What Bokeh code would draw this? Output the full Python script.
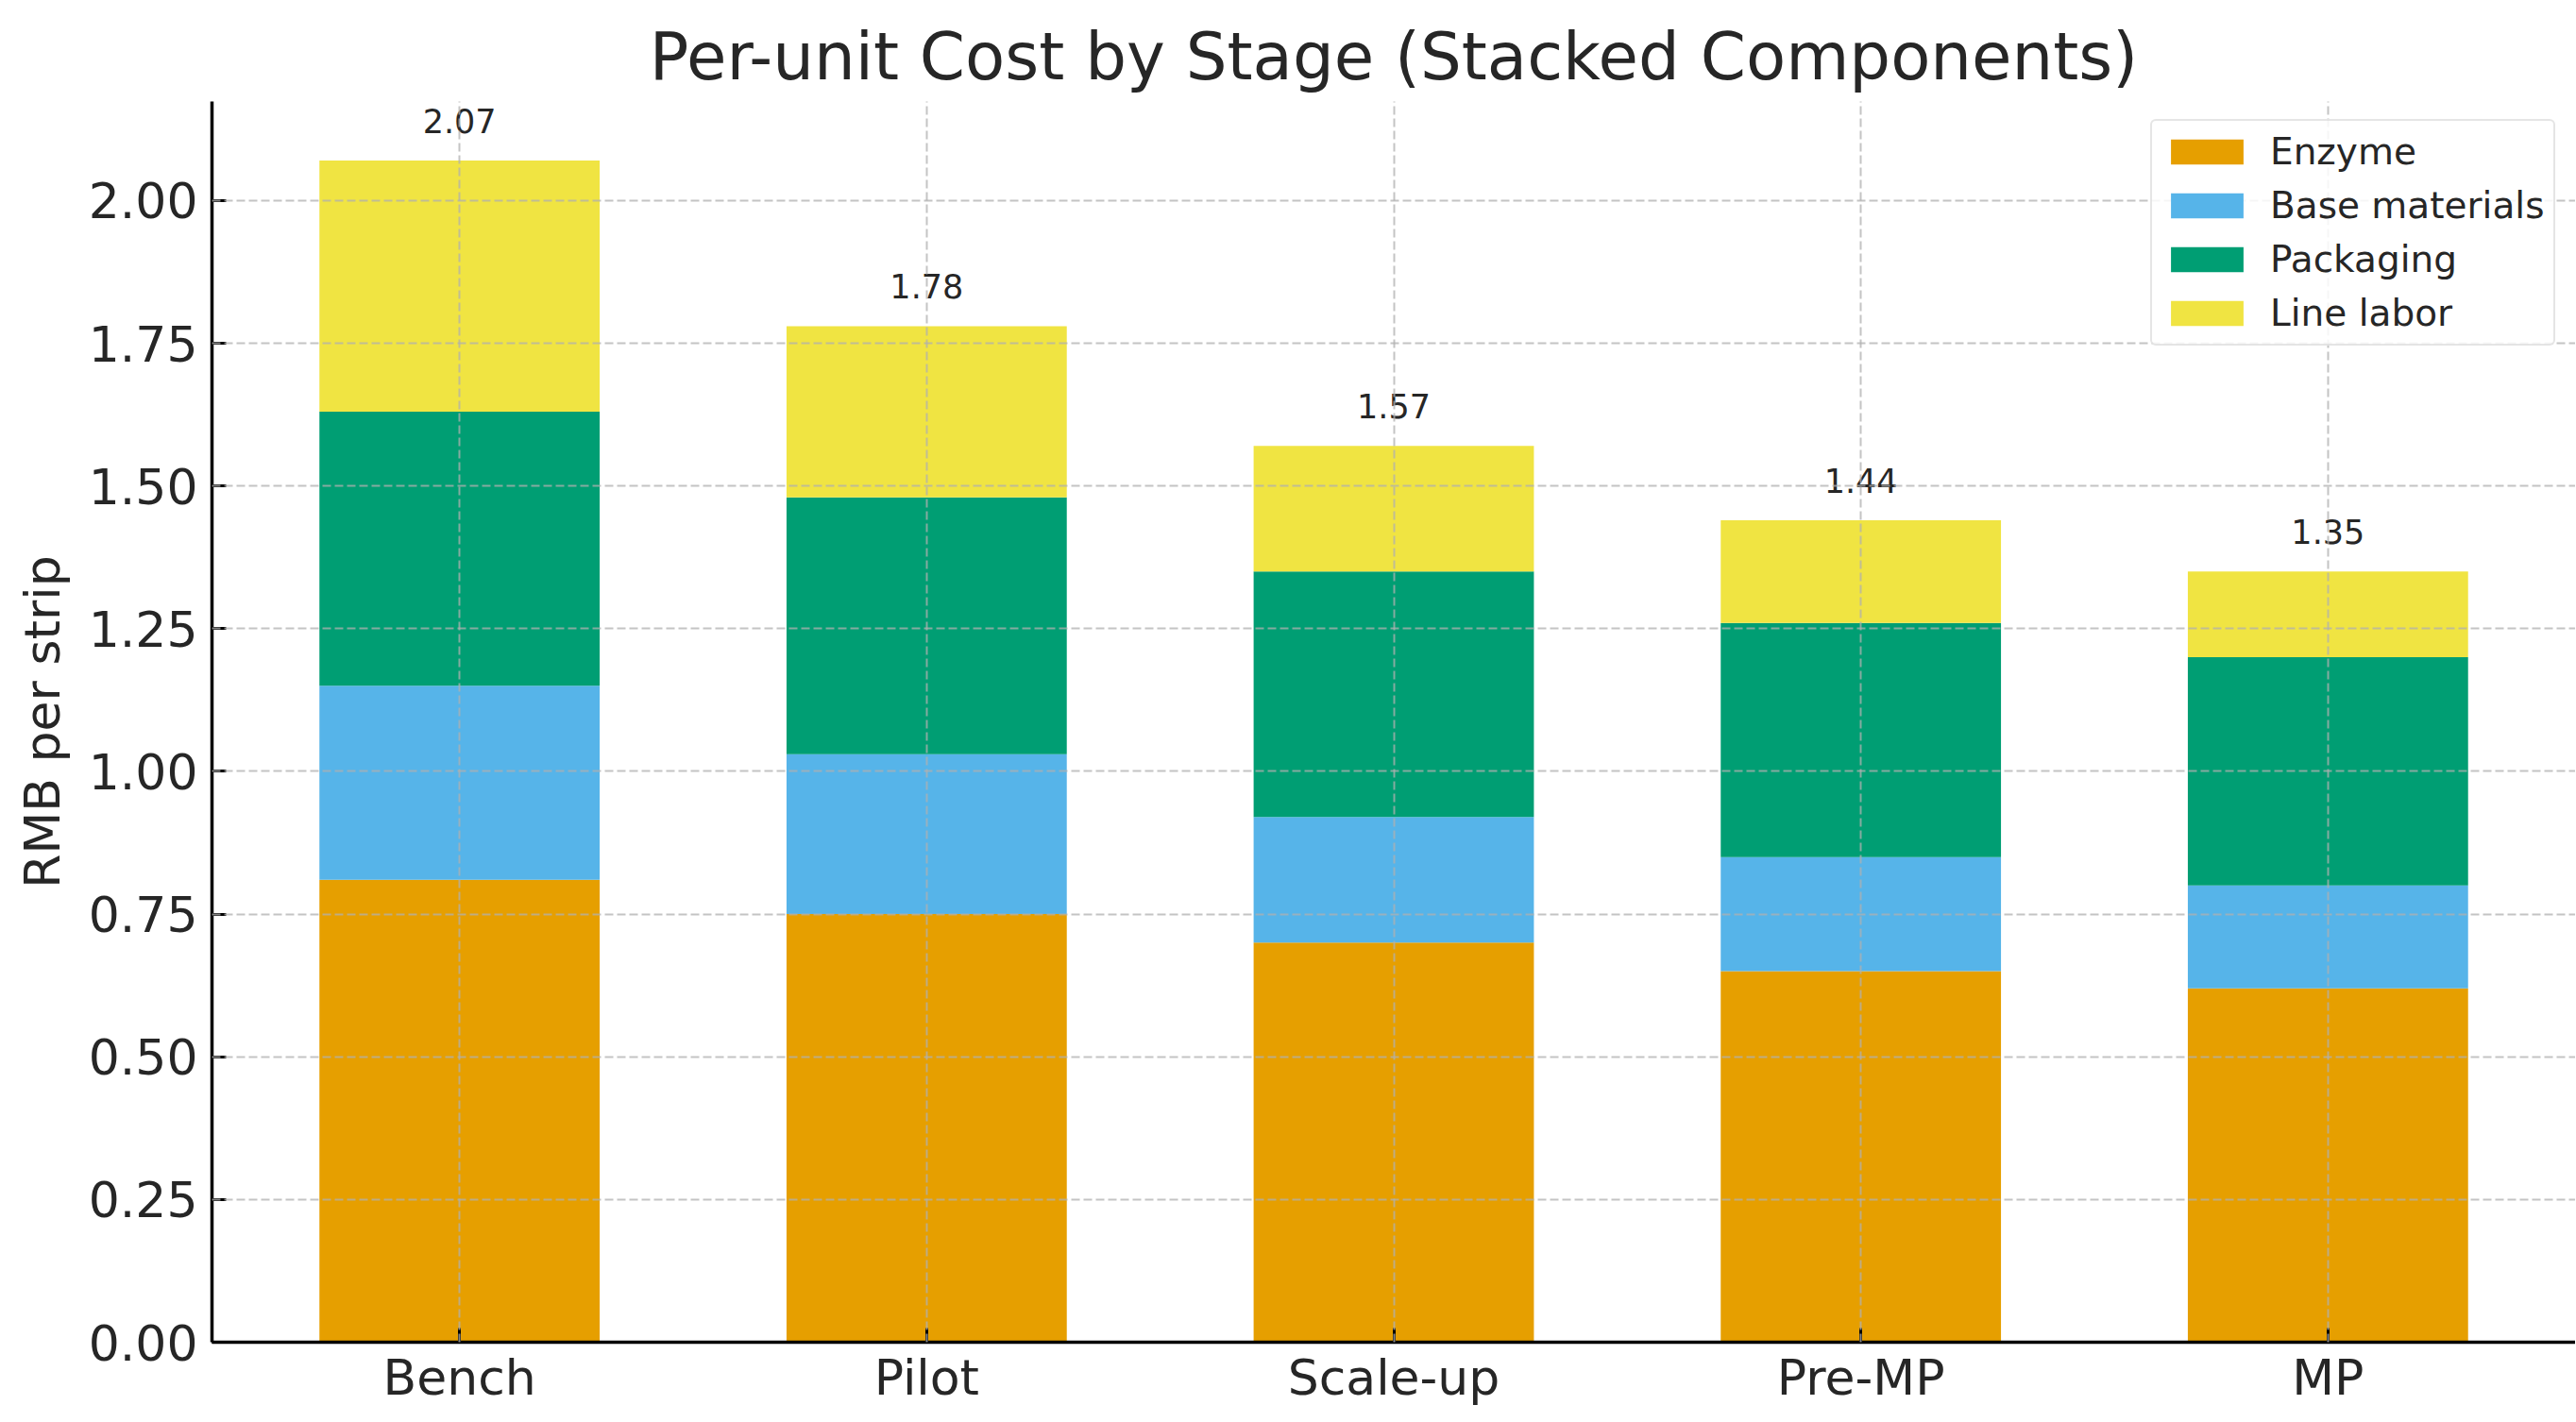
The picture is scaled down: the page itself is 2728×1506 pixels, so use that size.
from bokeh.plotting import figure
from bokeh.models import ColumnDataSource, Range1d, FixedTicker, NumeralTickFormatter, LabelSet, Legend
from bokeh.core.properties import value
from bokeh.embed import file_html
from bokeh.resources import INLINE

# ---- data ----
stages = ["Bench", "Pilot", "Scale-up", "Pre-MP", "MP"]
enzyme = [0.81, 0.75, 0.70, 0.65, 0.62]
base_materials = [0.34, 0.28, 0.22, 0.20, 0.18]
packaging = [0.48, 0.45, 0.43, 0.41, 0.40]
line_labor = [0.44, 0.30, 0.22, 0.18, 0.15]
components = ["Enzyme", "Base materials", "Packaging", "Line labor"]
colors = ["#E69F00", "#56B4E9", "#009E73", "#F0E442"]
y_ticks = [0.0, 0.25, 0.5, 0.75, 1.0, 1.25, 1.5, 1.75, 2.0]

FONT = "DejaVu Sans"
TXT = "#262626"

xs = list(range(len(stages)))
totals = [round(a + b + c + d, 2) for a, b, c, d in zip(enzyme, base_materials, packaging, line_labor)]
src = ColumnDataSource(dict(
    x=xs, stage=stages,
    Enzyme=enzyme, **{"Base materials": base_materials}, Packaging=packaging, **{"Line labor": line_labor},
    total=totals, label=["%.2f" % t for t in totals],
))

p = figure(width=2727, height=1498, output_backend="svg", toolbar_location=None,
           x_range=Range1d(-0.53, len(stages) - 1 + 0.53),
           y_range=Range1d(0, max(totals) * 1.05),
           min_border_left=224, min_border_right=0, min_border_top=107, min_border_bottom=77,
           title="Per-unit Cost by Stage (Stacked Components)")
p.outline_line_color = None
p.background_fill_color = "white"
p.border_fill_color = "white"

renderers = p.vbar_stack(components, x="x", width=0.6, source=src, fill_color=colors,
                         line_color=None, legend_label=components)

# title
p.title.text_font = FONT
p.title.text_font_size = "69px"
p.title.text_font_style = "normal"
p.title.text_color = TXT
p.title.align = "center"
p.title.standoff = 16

# axes
xa = p.xaxis[0]
xa.ticker = FixedTicker(ticks=xs)
xa.major_label_overrides = {i: s for i, s in zip(xs, stages)}
ya = p.yaxis[0]
ya.ticker = FixedTicker(ticks=y_ticks)
ya.formatter = NumeralTickFormatter(format="0.00")
ya.axis_label = "RMB per strip"
for ax in (xa, ya):
    ax.axis_line_color = "black"
    ax.axis_line_width = 3.5
    ax.major_tick_line_color = "black"
    ax.major_tick_line_width = 3
    ax.major_tick_in = 15
    ax.major_tick_out = 0
    ax.minor_tick_line_color = None
    ax.major_label_text_font = FONT
    ax.major_label_text_font_size = "52px"
    ax.major_label_text_color = TXT
    ax.major_label_standoff = 15
    ax.axis_label_text_font = FONT
    ax.axis_label_text_font_size = "52px"
    ax.axis_label_text_font_style = "normal"
    ax.axis_label_text_color = TXT
ya.axis_label_standoff = 16
xa.major_label_standoff = 7

# grid
for g in (p.xgrid[0], p.ygrid[0]):
    g.grid_line_color = "#b0b0b0"
    g.grid_line_alpha = 0.75
    g.grid_line_width = 2
    g.grid_line_dash = "9 4"
    g.level = "overlay"

# totals above bars
labels = LabelSet(x="x", y="total", text="label", source=src, text_align="center",
                  text_baseline="alphabetic", y_offset=29, text_font_size="35px",
                  text_color=TXT, text_font=value(FONT))
p.add_layout(labels)

# legend
leg = p.legend[0]
leg.location = (2053, 1055)
leg.padding = 10
leg.spacing = 12
leg.glyph_width = 96
leg.glyph_height = 33
leg.label_standoff = 19
leg.label_text_font = FONT
leg.label_text_font_size = "39px"
leg.label_text_color = TXT
leg.border_line_color = "#cccccc"
leg.border_line_width = 2
leg.background_fill_alpha = 0.85
if "border_radius" in Legend.properties():
    leg.border_radius = 6

open("out.html", "w").write(file_html(p, INLINE))
